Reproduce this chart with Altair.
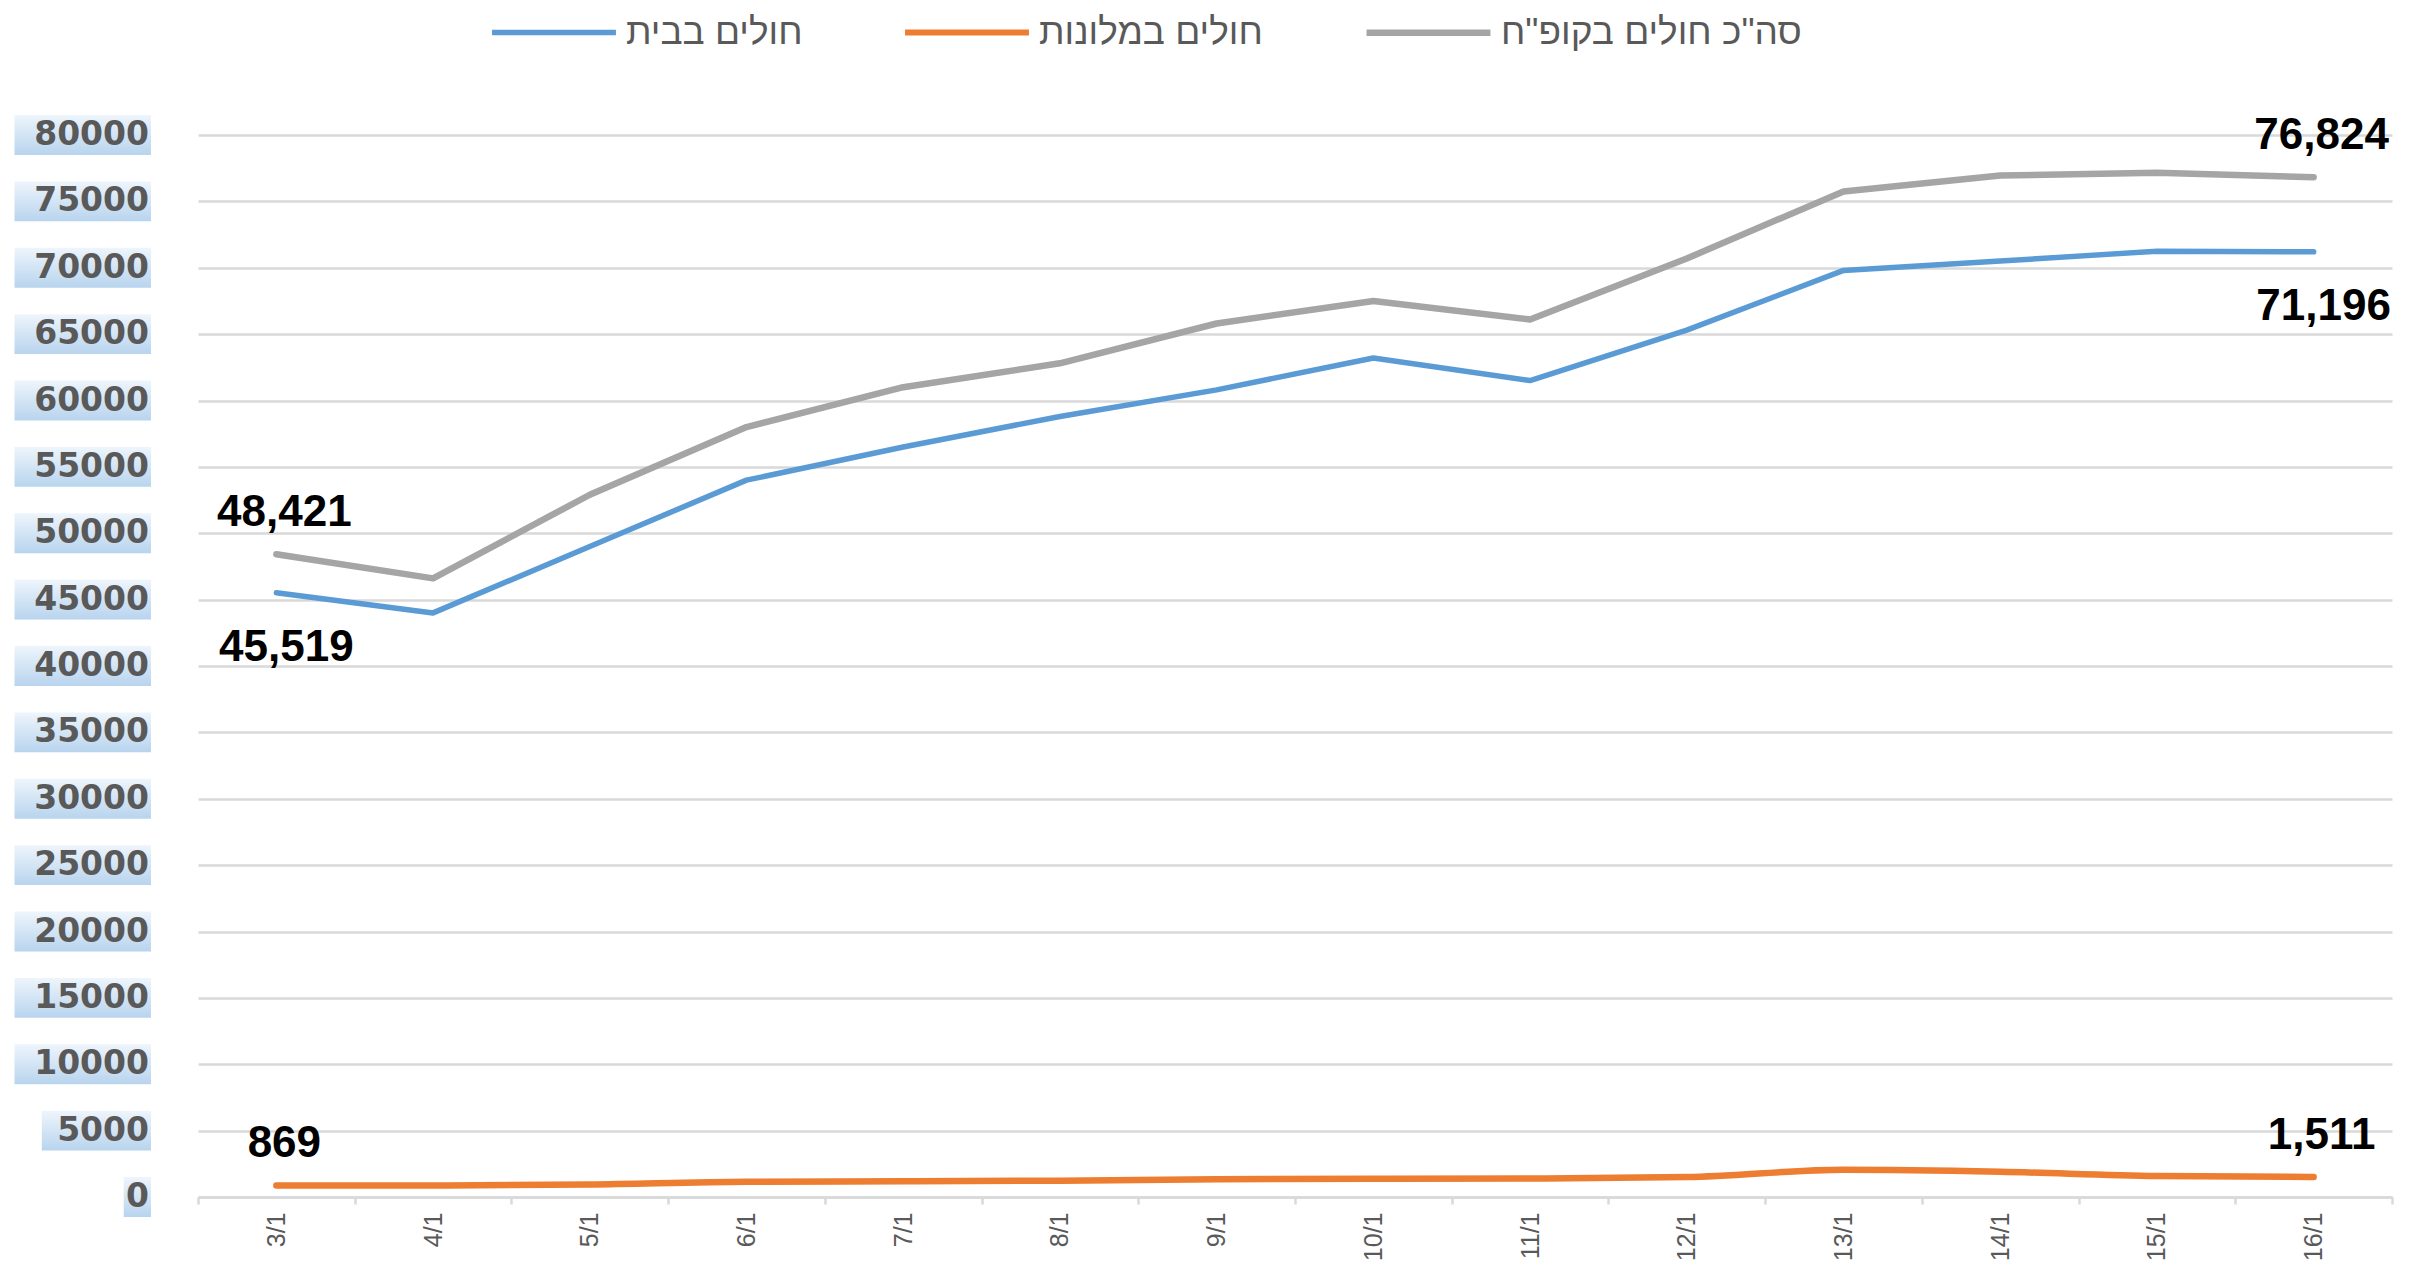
import altair as alt
import pandas as pd

dates = ["3/1", "4/1", "5/1", "6/1", "7/1", "8/1", "9/1", "10/1", "11/1", "12/1", "13/1", "14/1", "15/1", "16/1"]
home = [45519, 44000, 49000, 54000, 56500, 58800, 60800, 63200, 61500, 65300, 69800, 70500, 71250, 71196]
hotel = [869, 860, 950, 1150, 1180, 1230, 1330, 1380, 1390, 1500, 2050, 1900, 1580, 1511]
total = [48421, 46600, 52900, 58000, 61000, 62800, 65800, 67500, 66100, 70700, 75750, 76950, 77150, 76824]

s_home = "חולים בבית"
s_hotel = "חולים במלונות"
s_total = 'סה"כ חולים בקופ"ח'
series_names = [s_home, s_hotel, s_total]
series_colors = ["#5b9bd5", "#ed7d31", "#a5a5a5"]
y_ticks = list(range(0, 80001, 5000))

rows = []
for name, vals in [(s_home, home), (s_hotel, hotel), (s_total, total)]:
    for d, v in zip(dates, vals):
        rows.append({"date": d, "series": name, "value": v})
df = pd.DataFrame(rows)

lab_rows = []
for name, vals, pos in [(s_total, total, "above"), (s_hotel, hotel, "above"), (s_home, home, "below")]:
    for i in (0, len(dates) - 1):
        lab_rows.append({"date": dates[i], "series": name, "value": vals[i], "pos": pos})
labels_df = pd.DataFrame(lab_rows)

ticks_df = pd.DataFrame({"tick": y_ticks})

x_enc = alt.X(
    "date:N",
    sort=dates,
    scale=alt.Scale(type="band", paddingInner=0, paddingOuter=0),
    bandPosition=0.5,
    title=None,
    axis=alt.Axis(
        tickBand="extent",
        labelAngle=-90,
        labelFont="Liberation Sans",
        labelFontSize=25,
        labelColor="#595959",
        domainColor="#d9d9d9",
        domainWidth=2.5,
        tickColor="#d9d9d9",
        tickWidth=2.5,
        tickSize=7,
        labelPadding=8,
        grid=False,
    ),
)

y_axis = alt.Axis(
    values=y_ticks,
    grid=True,
    gridColor="#d9d9d9",
    gridWidth=2.5,
    domain=False,
    ticks=False,
    labels=False,
    title=None,
)
y_scale = alt.Scale(domain=[0, 80000], nice=False, zero=True)
y_enc = alt.Y("value:Q", scale=y_scale, title=None, axis=y_axis)

color_enc = alt.Color(
    "series:N",
    scale=alt.Scale(domain=series_names, range=series_colors),
    sort=series_names,
    legend=alt.Legend(
        title=None,
        orient="none",
        direction="horizontal",
        legendX=332,
        legendY=-127,
        symbolType="M-2.95,0H2.95",
        symbolSize=1764,
        symbolStrokeWidth=8,
        labelFont="Liberation Sans",
        labelFontSize=37,
        labelColor="#595959",
        labelOffset=48,
        columnPadding=90,
        labelLimit=600,
    ),
)

grad = alt.Gradient(
    gradient="linear",
    stops=[alt.GradientStop(color="#eef5fc", offset=0), alt.GradientStop(color="#b8d4ee", offset=1)],
    x1=0, x2=0, y1=0, y2=1,
)

boxes = (
    alt.Chart(ticks_df)
    .transform_calculate(
        lo="datum.tick - 1500",
        hi="datum.tick + 1500",
        x0="-47 - 27.3 * length(toString(datum.tick))",
        x1="-47",
    )
    .mark_rect(color=grad)
    .encode(
        x=alt.X("x0:Q", scale=None),
        x2="x1:Q",
        y=alt.Y("lo:Q", scale=y_scale, axis=y_axis),
        y2="hi:Q",
    )
)

tick_labels = (
    alt.Chart(ticks_df)
    .mark_text(font="DejaVu Sans", fontWeight="bold", fontSize=33, color="#595959", align="right", baseline="middle", dx=-1)
    .encode(
        x=alt.value(-48),
        y=alt.Y("tick:Q", scale=y_scale, axis=y_axis),
        text=alt.Text("tick:Q", format="d"),
    )
)

base = alt.Chart(df)

lines_main = (
    base.transform_filter(alt.FieldOneOfPredicate(field="series", oneOf=[s_home, s_total]))
    .mark_line(strokeCap="round", strokeJoin="round")
    .encode(
        x=x_enc,
        y=y_enc,
        color=color_enc,
        strokeWidth=alt.StrokeWidth("series:N", scale=alt.Scale(domain=series_names, range=[5.5, 6.5, 9]), legend=None),
    )
)

line_orange = (
    base.transform_filter(alt.FieldEqualPredicate(field="series", equal=s_hotel))
    .mark_line(strokeCap="round", strokeJoin="round", interpolate="monotone", strokeWidth=6.5)
    .encode(x=x_enc, y=y_enc, color=color_enc)
)

lab_base = alt.Chart(labels_df)
labels_above = (
    lab_base.transform_filter("datum.pos == 'above'")
    .mark_text(font="Liberation Sans", fontWeight="bold", fontSize=44, color="#000000", dy=-28, dx=8, baseline="alphabetic", align="center")
    .encode(x=x_enc, y=alt.Y("value:Q", scale=y_scale, axis=y_axis), text=alt.Text("value:Q", format=","))
)
labels_below = (
    lab_base.transform_filter("datum.pos == 'below'")
    .mark_text(font="Liberation Sans", fontWeight="bold", fontSize=44, color="#000000", dy=68, dx=10, baseline="alphabetic", align="center")
    .encode(x=x_enc, y=alt.Y("value:Q", scale=y_scale, axis=y_axis), text=alt.Text("value:Q", format=","))
)

chart = (
    alt.layer(boxes, tick_labels, lines_main, line_orange, labels_above, labels_below)
    .properties(
        width=2194,
        height=1062,
        autosize=alt.AutoSizeParams(type="none"),
        padding={"left": 190, "top": 127, "right": 12, "bottom": 63},
        background="white",
    )
    .configure_view(stroke=None)
)

chart.save("out.html", embed_options={"renderer": "svg", "actions": False})
